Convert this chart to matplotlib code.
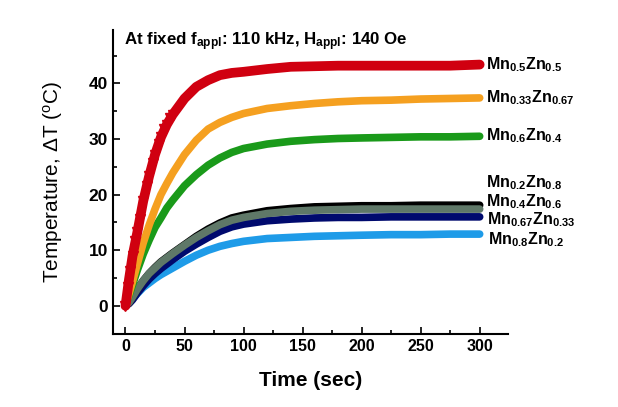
import numpy as np
import matplotlib.pyplot as plt

plt.rcParams['font.family'] = ['Liberation Sans', 'DejaVu Sans']
plt.rcParams['mathtext.fontset'] = 'custom'
plt.rcParams['mathtext.rm'] = 'Liberation Sans:bold'
plt.rcParams['mathtext.it'] = 'Liberation Sans:bold'
plt.rcParams['mathtext.bf'] = 'Liberation Sans:bold'
plt.rcParams['mathtext.sf'] = 'Liberation Sans'

# time points (sec)
t = [0, 3, 6, 10, 15, 20, 25, 30, 35, 40, 50, 60, 70, 80, 90, 100,
     120, 140, 160, 180, 200, 225, 250, 275, 300]

# temperature rise (deg C)
mn05 = [0, 4.8, 9.0, 13.2, 18.8, 23.3, 27.2, 30.3, 32.6, 34.4, 37.3, 39.4, 40.6,
        41.5, 41.9, 42.1, 42.6, 43.0, 43.1, 43.2, 43.2, 43.2, 43.2, 43.2, 43.4]
mn033 = [0, 2.2, 4.4, 7.5, 11.3, 14.5, 17.4, 20.0, 22.0, 23.9, 27.2, 29.8, 31.8,
         33.0, 33.9, 34.6, 35.5, 36.0, 36.4, 36.7, 36.9, 37.0, 37.2, 37.3, 37.4]
mn06 = [0, 1.9, 3.8, 6.4, 9.3, 11.8, 14.1, 15.8, 17.6, 19.0, 21.6, 23.6, 25.3,
        26.6, 27.6, 28.3, 29.1, 29.6, 29.9, 30.1, 30.2, 30.3, 30.4, 30.4, 30.5]
mn02 = [0, 0.6, 1.6, 3.0, 4.5, 5.8, 6.9, 7.9, 8.7, 9.5, 11.0, 12.5, 13.8,
        14.9, 15.8, 16.3, 17.1, 17.5, 17.8, 17.9, 18.0, 18.0, 18.1, 18.1, 18.1]
mn04 = [0, 0.6, 1.6, 3.0, 4.5, 5.8, 6.8, 7.8, 8.6, 9.4, 10.9, 12.3, 13.5,
        14.6, 15.4, 15.9, 16.6, 17.0, 17.2, 17.3, 17.4, 17.4, 17.4, 17.4, 17.4]
mn067 = [0, 0.4, 1.1, 2.3, 3.6, 4.8, 5.8, 6.7, 7.5, 8.3, 9.8, 11.1, 12.3,
         13.4, 14.2, 14.7, 15.3, 15.6, 15.8, 15.9, 15.9, 16.0, 16.0, 16.0, 16.0]
mn08 = [0, 0.6, 1.3, 2.2, 3.3, 4.1, 4.9, 5.6, 6.2, 6.8, 8.0, 9.1, 10.0,
        10.7, 11.2, 11.6, 12.1, 12.3, 12.5, 12.6, 12.7, 12.8, 12.8, 12.9, 12.9]

# red rise region drawn with its triangle markers
t_rise = [0, 2, 4, 6, 8, 10, 12, 15, 18, 20, 23, 25, 28, 30, 33, 35, 38, 40]
mn05_rise = [0, 3.3, 6.2, 9.0, 11.6, 13.2, 15.6, 18.8, 21.6, 23.3, 25.7, 27.2,
             29.1, 30.3, 31.8, 32.6, 33.7, 34.4]

labels = [r'Mn$_{0.8}$Zn$_{0.2}$', r'Mn$_{0.67}$Zn$_{0.33}$', r'Mn$_{0.2}$Zn$_{0.8}$',
          r'Mn$_{0.4}$Zn$_{0.6}$', r'Mn$_{0.6}$Zn$_{0.4}$', r'Mn$_{0.33}$Zn$_{0.67}$',
          r'Mn$_{0.5}$Zn$_{0.5}$']
series = [mn08, mn067, mn02, mn04, mn06, mn033, mn05]
colors = ['#1e9be8', '#000a6e', '#000000', '#5f7868', '#1a9a1a', '#f5a020', '#d00010']
widths = [5.5, 5.5, 5.5, 5.5, 5.5, 5.5, 7]
label_y = [11.0, 14.6, 21.3, 17.9, 29.8, 36.6, 42.5]
label_x = [307, 306, 305, 305, 305, 305, 305]

fig = plt.figure(figsize=(6.18, 4.07), dpi=100)
ax = fig.add_axes([0.183, 0.179, 0.639, 0.747])

for y, c, w in zip(series, colors, widths):
    ax.plot(t, y, color=c, lw=w, solid_capstyle='round', solid_joinstyle='round')
ax.plot(t_rise, mn05_rise, ls='none', marker='v', ms=7, color='#d00010')

for lab, lx, ly in zip(labels, label_x, label_y):
    ax.text(lx, ly, lab, fontsize=11.5, fontweight='bold', ha='left', va='baseline')

ax.set_xlim(-10.5, 324)
ax.set_ylim(-5.1, 49.6)
ax.set_xticks([0, 50, 100, 150, 200, 250, 300])
ax.set_xticks([25, 75, 125, 175, 225, 275], minor=True)
ax.set_yticks([0, 10, 20, 30, 40])
ax.set_yticks([5, 15, 25, 35, 45], minor=True)
ax.tick_params(which='both', direction='in', width=1.2)
ax.tick_params(axis='x', labelsize=11.5)
ax.tick_params(axis='y', labelsize=12.5)
ax.tick_params(which='major', length=5)
ax.tick_params(which='minor', length=3)
for lbl in ax.get_xticklabels() + ax.get_yticklabels():
    lbl.set_fontweight('bold')
for s in ['top', 'right']:
    ax.spines[s].set_visible(False)
for s in ['left', 'bottom']:
    ax.spines[s].set_linewidth(1.5)

ax.set_xlabel('Time (sec)', fontsize=15, fontweight='bold', labelpad=12)
ax.set_ylabel(r'Temperature, ΔT ($\mathsf{^{o}}$C)', fontsize=15, labelpad=17)

ax.text(0.027, 0.951, r'At fixed f$_{appl}$: 110 kHz, H$_{appl}$: 140 Oe', transform=ax.transAxes,
        fontsize=12.2, fontweight='bold', ha='left', va='baseline')

fig.savefig('out.png', dpi=100)
